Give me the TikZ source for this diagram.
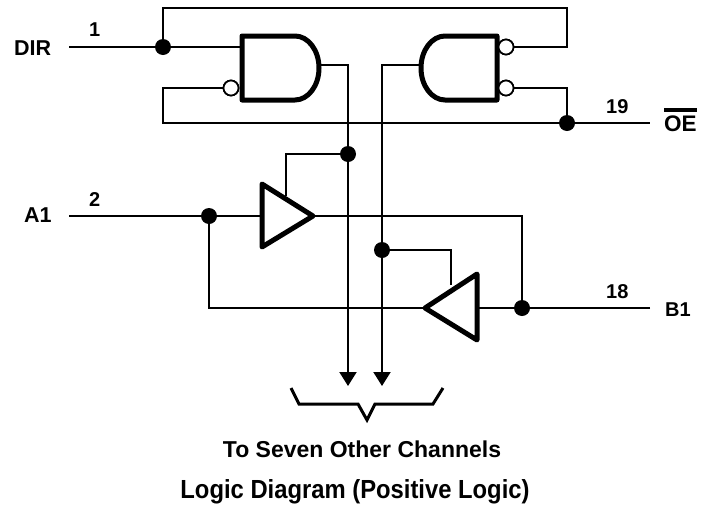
\documentclass[tikz,border=0pt]{standalone}
\usepackage{fontspec}
\setmainfont{Liberation Sans}
\usetikzlibrary{arrows.meta}
\tikzset{
  wire/.style={line width=2pt,line join=miter},
  gate/.style={line width=5pt,line join=round,fill=white},
  dotnode/.style={circle,fill=black,inner sep=0pt,minimum size=16pt},
  bubble/.style={circle,draw,line width=1.7pt,fill=white,inner sep=0pt,minimum size=15pt},
  lbl/.style={font=\fontsize{20}{20}\selectfont\bfseries,inner sep=0pt,anchor=base west},
  biglbl/.style={lbl,font=\fontsize{21.5}{22}\selectfont\bfseries},
  arrowwire/.style={wire,-{Triangle[length=14pt,width=17pt]}}
}
\begin{document}
\begin{tikzpicture}[x=1pt,y=-1pt]
\useasboundingbox (0,0) rectangle (705,504);
\coordinate (dirL) at (69,47);
\coordinate (a1L) at (69,216);
\coordinate (b1R) at (650,308);
\coordinate (oeR) at (650,123);
\coordinate (arrL) at (348,386);
\coordinate (arrR) at (382,386);
\node[bubble] (bubL) at (231,88) {};
\node[bubble] (bubR1) at (506,47) {};
\node[bubble] (bubR2) at (506,88) {};
\node[dotnode] (dDir) at (163,47) {};
\node[dotnode] (dOe) at (567,123) {};
\node[dotnode] (dL) at (348,154) {};
\node[dotnode] (dR) at (382,250) {};
\node[dotnode] (dA) at (209,216) {};
\node[dotnode] (dB) at (522,308) {};
\coordinate (andOut) at (319,65);
\coordinate (nandOut) at (421,65);
\coordinate (buf1Tip) at (313,216);
\coordinate (buf2Tip) at (425,308);
\coordinate (buf1En) at (286,196);
\coordinate (buf2En) at (451,285);
\draw[wire] (dirL) -- (242,47);
\draw[wire] (dDir) -- (163,8) -- (567,8) -- (567,47) -- (bubR1);
\draw[wire] (bubL) -- (163,88) |- (dOe);
\draw[wire] (dOe) -- (oeR);
\draw[wire] (dOe) -- (567,88) -- (bubR2);
\draw[arrowwire] (andOut) -| (arrL);
\draw[arrowwire] (nandOut) -| (arrR);
\draw[wire] (a1L) -- (buf1Tip) -- (522,216) -- (dB);
\draw[wire] (dA) -- (209,308) -- (buf2Tip);
\draw[wire] (b1R) -- (477,308);
\draw[wire] (buf1En) |- (dL);
\draw[wire] (buf2En) |- (dR);
\draw[gate] (242,36) -- (295,36) .. controls (308,36) and (319,50) .. (319,68) .. controls (319,86) and (308,100) .. (295,100) -- (242,100) -- cycle;
\draw[gate] (497,36) -- (445,36) .. controls (432,36) and (421,50) .. (421,68) .. controls (421,86) and (432,100) .. (445,100) -- (497,100) -- cycle;
\draw[gate] (262,184) -- (313,216) -- (262,247) -- cycle;
\draw[gate] (477,274) -- (425,308) -- (477,340) -- cycle;
\node[bubble] at (bubL) {};
\node[bubble] at (bubR1) {};
\node[bubble] at (bubR2) {};
\draw[line width=3pt] (291,388) -- (299,404) -- (358,404) -- (367,420) -- (375,404) -- (433,404) -- (443,388);
\node[biglbl] (tDir) at (14,55) {DIR};
\node[lbl] (t1) at (89,36) {1};
\node[biglbl] (tA1) at (24,222) {A1};
\node[lbl] (t2) at (89,206) {2};
\node[lbl] (t19) at (606,113) {19};
\node[biglbl,font=\fontsize{22.5}{23}\selectfont\bfseries] (tOe) at (664,131) {OE};
\draw[line width=4.5pt] ([yshift=5pt]tOe.north west) -- ([yshift=5pt]tOe.north east);
\node[lbl] (t18) at (606,298) {18};
\node[lbl] (tB1) at (665,316) {B1};
\node[lbl,anchor=base,font=\fontsize{23}{24}\selectfont\bfseries] (tSeven) at (362,457) {To Seven Other Channels};
\node[lbl,anchor=base,font=\fontsize{23.8}{24}\selectfont\bfseries] (tTitle) at (355,498) {\scalebox{1}[1.1]{Logic Diagram (Positive Logic)}};
\end{tikzpicture}
\end{document}
